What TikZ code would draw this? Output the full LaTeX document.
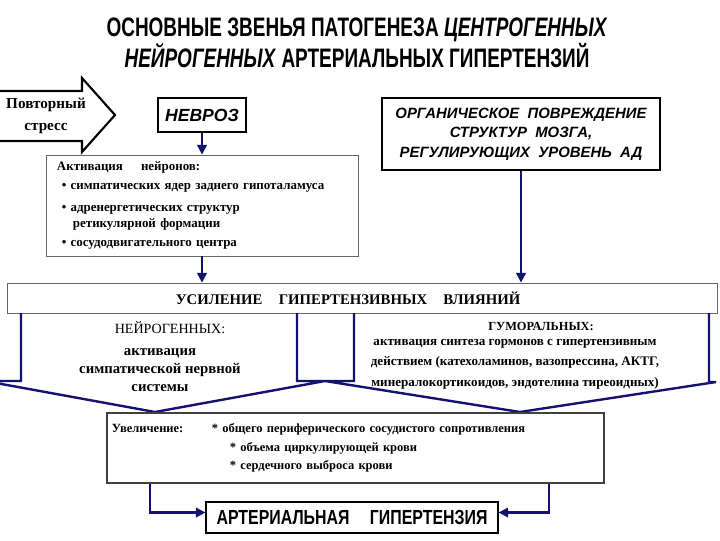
\documentclass[tikz,border=0pt]{standalone}
\usepackage{fontspec}
\setmainfont{Liberation Serif}
\setsansfont{Liberation Sans}
\newfontfamily\headfont[FakeStretch=0.78]{Liberation Sans}
\newfontfamily\titlefont[FakeStretch=0.71]{Liberation Sans}
\usepackage{xcolor}
\usepackage{tikz}
\usetikzlibrary{arrows.meta,calc,positioning}

\definecolor{navy}{RGB}{18,18,112}

\begin{document}
\begin{tikzpicture}[
    x=0.025cm,y=-0.025cm,
    every node/.style={align=center,inner sep=0pt},
    heavybox/.style={draw=black,line width=1.5pt,fill=white},
    thinbox/.style={draw=black!60,line width=0.6pt},
    blockarrow/.style={draw=navy,line width=1.7pt,line join=miter},
    link/.style={draw=navy,line width=1.5pt},
    arrow/.style={link,-{Triangle[length=2.4mm,width=2.4mm]}}
]
\useasboundingbox (0,0) rectangle (720,540);

% Title
\node[font=\titlefont\bfseries\fontsize{19}{18}\selectfont] (title) at (357,43)
{ОСНОВНЫЕ ЗВЕНЬЯ ПАТОГЕНЕЗА \textit{ЦЕНТРОГЕННЫХ}\\
\textit{НЕЙРОГЕННЫХ} АРТЕРИАЛЬНЫХ ГИПЕРТЕНЗИЙ};

% Repeated stress
\draw[line width=1.5pt,line join=miter] (-5,91) -- (82,91) -- (82,78) -- (115,115)
    -- (82,152) -- (82,141) -- (-5,141);
\node[font=\bfseries\fontsize{10.8}{15.5}\selectfont] (stress) at (46,116)
{Повторный\\стресс};

% Causes
\node[heavybox,minimum width=2.2cm,minimum height=0.83cm,
    font=\sffamily\bfseries\itshape\fontsize{12.5}{14}\selectfont] (nevroz) at (202,115)
{НЕВРОЗ};

\node[heavybox,minimum width=6.95cm,minimum height=1.8cm,
    font=\sffamily\bfseries\itshape\fontsize{10.6}{14}\selectfont] (organic) at (521,134)
{ОРГАНИЧЕСКОЕ~ ПОВРЕЖДЕНИЕ\\
СТРУКТУР~ МОЗГА,\\
РЕГУЛИРУЮЩИХ~ УРОВЕНЬ~ АД};

% Activation of neurons
\node[thinbox,minimum height=2.525cm,text width=7.25cm,inner xsep=0.275cm,align=left,
    font=\bfseries\fontsize{9.2}{13.5}\selectfont] (activation) at (202,205.5)
{Активация\hspace{1.4em}нейронов:\\
\hspace*{0.12cm}\textbullet\ симпатических ядер заднего гипоталамуса\\[2pt]
\hspace*{0.12cm}\textbullet\ адренергетических структур\\[-2pt]
\hspace*{0.4cm}ретикулярной формации\\
\hspace*{0.12cm}\textbullet\ сосудодвигательного центра};

% Common link
\node[thinbox,minimum width=17.725cm,minimum height=0.75cm,
    font=\bfseries\fontsize{10.5}{13}\selectfont] (usil) at (362.5,298)
{УСИЛЕНИЕ\hspace{1.1em}ГИПЕРТЕНЗИВНЫХ\hspace{1.1em}ВЛИЯНИЙ\hspace*{0.72cm}};

\draw[arrow] (nevroz.south) -- (activation.north);
\draw[arrow] (activation.south) -- (activation.south |- usil.north);
\draw[arrow] (organic.south) -- (organic.south |- usil.north);

% Neurogenic and humoral influences
\draw[blockarrow] (21,313) -- (21,381) -- (-15,381) -- (155,412) -- (325,381)
    -- (297,381) -- (297,313);
\draw[blockarrow] (354,313) -- (354,381) -- (325,381) -- (520,412) -- (716,382)
    -- (709,382) -- (709,313);

\node[font=\fontsize{10}{12}\selectfont] (neurohead) at (170,328) {НЕЙРОГЕННЫХ:};
\node[font=\bfseries\fontsize{10.5}{12.8}\selectfont] (neuro) at (160,370)
{активация\\симпатической нервной\\системы};

\node[font=\bfseries\fontsize{8.8}{12}\selectfont] (humorhead) at (541,326) {ГУМОРАЛЬНЫХ:};
\node[font=\bfseries\fontsize{9.3}{14.6}\selectfont] (humor) at (515,364)
{активация синтеза гормонов с гипертензивным\\
действием (катехоламинов, вазопрессина, АКТГ,\\
минералокортикоидов, эндотелина тиреоидных)};

% Increase
\node[draw=black!75,line width=1pt,minimum height=1.75cm,text width=12.175cm,
    inner xsep=0.125cm,align=left,font=\bfseries\fontsize{8.9}{13.3}\selectfont] (uvel) at (355.5,448)
{\makebox[2.5cm][l]{Увеличение:}* общего периферического сосудистого сопротивления\\
\hspace*{2.95cm}* объема циркулирующей крови\\
\hspace*{2.95cm}* сердечного выброса крови};

% Result
\node[draw=black,line width=0.8pt,minimum width=7.3cm,minimum height=0.775cm,
    font=\headfont\bfseries\fontsize{14.5}{16}\selectfont] (ag) at (352,517.5)
{АРТЕРИАЛЬНАЯ\hspace{1em}ГИПЕРТЕНЗИЯ};

\draw[arrow] ([xshift=1.1cm]uvel.south west) |- ([yshift=0.125cm]ag.west);
\draw[arrow] ([xshift=-1.4cm]uvel.south east) |- ([yshift=0.125cm]ag.east);

\end{tikzpicture}
\end{document}
